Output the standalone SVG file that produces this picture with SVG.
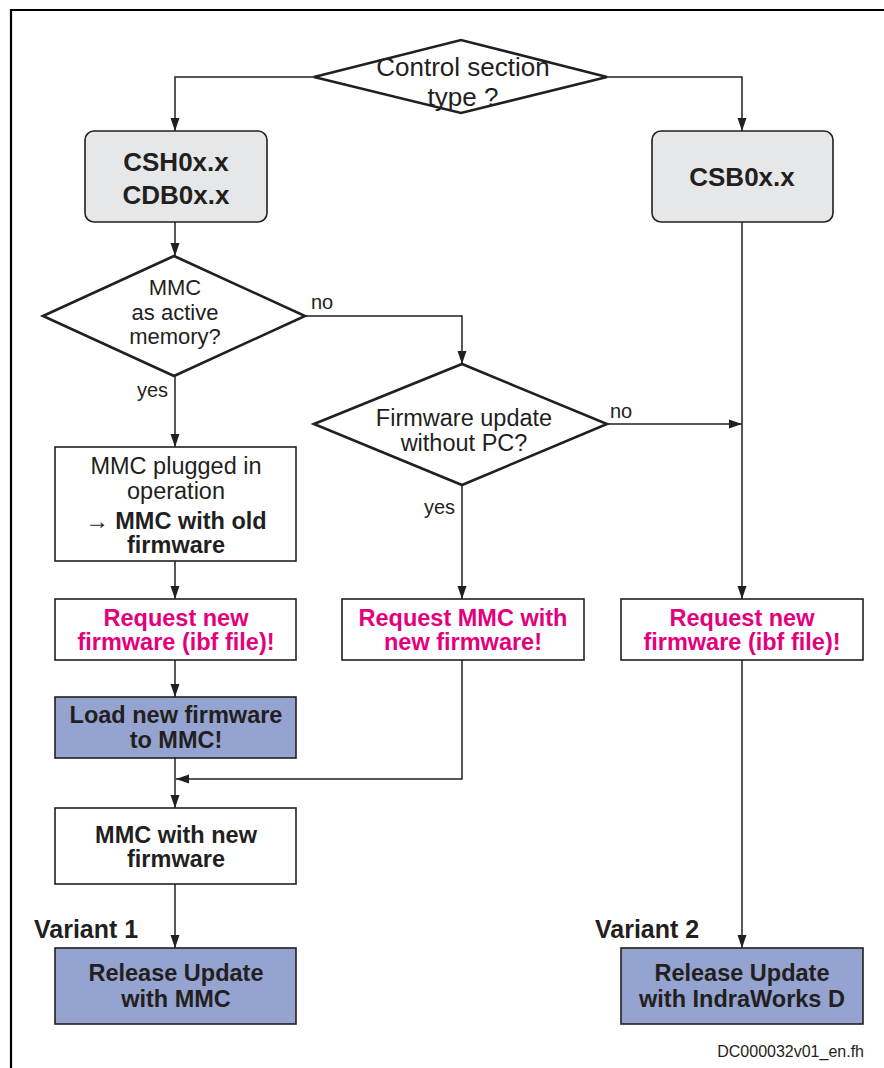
<svg xmlns="http://www.w3.org/2000/svg" width="884" height="1068" viewBox="0 0 884 1068">
<defs>
<marker id="arr" markerUnits="userSpaceOnUse" markerWidth="14" markerHeight="12" viewBox="0 0 14 12" refX="13" refY="6" orient="auto">
<path d="M0,1.5 L13,6 L0,10.5 z" fill="#231f20"/>
</marker>
<style>
text{font-family:"Liberation Sans",Arial,Helvetica,sans-serif;fill:#231f20;text-anchor:middle}
.r{font-size:23.5px}
.d{font-size:22px}
.b{font-size:23.5px;font-weight:bold}
.hb{font-size:26px;font-weight:bold}
.pk{fill:#e4007d}
.lbl{font-size:20px;text-anchor:start}
.dia{fill:#fff;stroke:#231f20;stroke-width:2.6;stroke-linejoin:miter}
.box{fill:#fff;stroke:#231f20;stroke-width:1.6}
.gray{fill:#e6e7e8;stroke:#231f20;stroke-width:1.6}
.blue{fill:#94a3cf;stroke:#231f20;stroke-width:1.6}
.con{fill:none;stroke:#231f20;stroke-width:1.5}
</style>
</defs>
<rect width="884" height="1068" fill="#fff"/>
<path d="M11,1068 L11,10 L884,10" fill="none" stroke="#000" stroke-width="2.2"/>

<g id="connectors">
<path class="con" d="M314,77 L175,77 L175,131" marker-end="url(#arr)"/>
<path class="con" d="M607,77 L742,77 L742,131" marker-end="url(#arr)"/>
<path class="con" d="M175,222 L175,256" marker-end="url(#arr)"/>
<path class="con" d="M305,316 L462,316 L462,364" marker-end="url(#arr)"/>
<path class="con" d="M175,376 L175,447" marker-end="url(#arr)"/>
<path class="con" d="M607,424 L742,424" marker-end="url(#arr)"/>
<path class="con" d="M742,222 L742,599" marker-end="url(#arr)"/>
<path class="con" d="M462,485 L462,599" marker-end="url(#arr)"/>
<path class="con" d="M175,561 L175,599" marker-end="url(#arr)"/>
<path class="con" d="M175,660 L175,697" marker-end="url(#arr)"/>
<path class="con" d="M462,660 L462,779 L176,779" marker-end="url(#arr)"/>
<path class="con" d="M175,758 L175,808" marker-end="url(#arr)"/>
<path class="con" d="M175,884 L175,948" marker-end="url(#arr)"/>
<path class="con" d="M742,660 L742,948" marker-end="url(#arr)"/>
<text class="lbl" x="311" y="309">no</text>
<text class="lbl" x="137" y="397">yes</text>
<text class="lbl" x="610" y="418">no</text>
<text class="lbl" x="424" y="514">yes</text>
</g>

<g id="n-control-type">
<polygon class="dia" points="314,77 461,40 607,77 461,113"/>
<text style="font-size:26px" x="463" y="76">Control section</text>
<text style="font-size:26px" x="463" y="106">type ?</text>
</g>

<g id="n-csh">
<rect class="gray" x="85" y="131" width="182" height="91" rx="9"/>
<text class="hb" x="176" y="171">CSH0x.x</text>
<text class="hb" x="176" y="204">CDB0x.x</text>
</g>

<g id="n-csb">
<rect class="gray" x="652" y="131" width="181" height="91" rx="9"/>
<text class="hb" x="742" y="186">CSB0x.x</text>
</g>

<g id="n-mmc-active">
<polygon class="dia" points="43,316 174,256 305,316 174,376"/>
<text class="d" x="175" y="295">MMC</text>
<text class="d" x="175" y="319.5">as active</text>
<text class="d" x="175" y="344">memory?</text>
</g>

<g id="n-fw-nopc">
<polygon class="dia" points="314,424 462,364 607,424 462,485"/>
<text class="r" x="464" y="426">Firmware update</text>
<text class="r" x="464" y="451">without PC?</text>
</g>

<g id="n-mmc-plugged">
<rect class="box" x="55" y="447" width="241" height="114"/>
<text class="r" x="176" y="474">MMC plugged in</text>
<text class="r" x="176" y="499">operation</text>
<text class="r" x="176" y="529">→ <tspan font-weight="bold">MMC with old</tspan></text>
<text class="b" x="176" y="553">firmware</text>
</g>

<g id="n-req-left">
<rect class="box" x="55" y="599" width="241" height="61"/>
<text class="b pk" x="176" y="626">Request new</text>
<text class="b pk" x="176" y="650">firmware (ibf file)!</text>
</g>

<g id="n-req-mid">
<rect class="box" x="342" y="599" width="242" height="61"/>
<text class="b pk" x="463" y="626">Request MMC with</text>
<text class="b pk" x="463" y="650">new firmware!</text>
</g>

<g id="n-req-right">
<rect class="box" x="621" y="599" width="242" height="61"/>
<text class="b pk" x="742" y="626">Request new</text>
<text class="b pk" x="742" y="650">firmware (ibf file)!</text>
</g>

<g id="n-load">
<rect class="blue" x="55" y="697" width="241" height="61"/>
<text class="b" x="176" y="723">Load new firmware</text>
<text class="b" x="176" y="748">to MMC!</text>
</g>

<g id="n-mmc-new">
<rect class="box" x="55" y="808" width="241" height="76"/>
<text class="b" x="176" y="843">MMC with new</text>
<text class="b" x="176" y="867">firmware</text>
</g>

<g id="n-release-mmc">
<text class="b" style="font-size:25px;text-anchor:start" x="34" y="938">Variant 1</text>
<rect class="blue" x="55" y="948" width="241" height="76"/>
<text class="b" x="176" y="981">Release Update</text>
<text class="b" x="176" y="1007">with MMC</text>
</g>

<g id="n-release-iw">
<text class="b" style="font-size:25px;text-anchor:start" x="595" y="938">Variant 2</text>
<rect class="blue" x="621" y="948" width="242" height="76"/>
<text class="b" x="742" y="981">Release Update</text>
<text class="b" x="742" y="1007">with IndraWorks D</text>
</g>

<text style="font-size:16px;text-anchor:end" x="864" y="1057">DC000032v01_en.fh</text>
</svg>
